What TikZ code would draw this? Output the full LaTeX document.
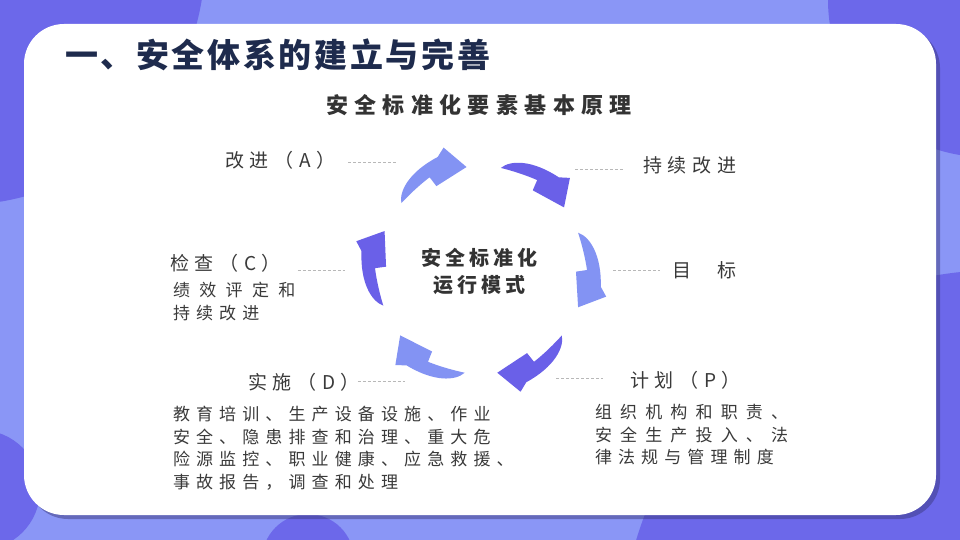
\documentclass[tikz,border=0pt]{standalone}
\usepackage{fontspec}
\usepackage{xcolor}
\usepackage{tikz}
\usetikzlibrary{calc}

\newfontfamily\cjk{Noto Sans CJK SC}

\definecolor{bgdark}{HTML}{6C68EA}
\definecolor{bglight}{HTML}{8A96F6}
\definecolor{arrowlight}{HTML}{8393F3}
\definecolor{arrowdark}{HTML}{6A60E8}
\definecolor{titlenavy}{HTML}{1E2B4D}
\definecolor{textgray}{HTML}{3A3A3A}

\begin{document}
\begin{tikzpicture}[
    x=1pt, y=-1pt,
    every node/.style={inner sep=0pt, outer sep=0pt},
    heading/.style={anchor=west, text=titlenavy,
        font=\cjk\bfseries\addfontfeatures{LetterSpace=8}\fontsize{33}{38}\selectfont},
    subheading/.style={text=black!80,
        font=\cjk\bfseries\addfontfeatures{LetterSpace=29}\fontsize{22}{26}\selectfont},
    hub/.style={align=center, text=black!80,
        font=\cjk\bfseries\addfontfeatures{LetterSpace=20}\fontsize{20}{27}\selectfont},
    % step labels and their descriptions
    lbl/.style={anchor=west, text=textgray,
        font=\cjk\addfontfeatures{LetterSpace=30}\fontsize{19}{22}\selectfont},
    desc/.style={anchor=west, align=left, text=textgray,
        font=\cjk\addfontfeatures{LetterSpace=36}\fontsize{17}{22.5}\selectfont},
    leader/.style={draw=black!28, line width=0.7pt, dash pattern=on 3pt off 2pt},
]
    \useasboundingbox (0,0) rectangle (960,540);
    \clip (0,0) rectangle (960,540);

    % background with darker blobs
    \fill[bglight] (0,0) rectangle (960,540);
    \fill[bgdark] (-40,-40) circle (245);
    \fill[bgdark] (985,0) circle (157);
    \fill[bgdark] (1000,650) circle (380);
    \fill[bgdark] (-20,490) circle (60);
    \fill[bgdark] (308,560) circle (46);

    % white card with soft shadow
    \fill[black!50!bgdark, opacity=0.45, rounded corners=40pt] (28,28) rectangle (940,519);
    \fill[white, rounded corners=40pt] (24,24) rectangle (936,515);

    \node[heading] (title) at (65,55) {一、安全体系的建立与完善};
    \node[subheading] (subtitle) at (479,105) {安全标准化要素基本原理};

    % six curved arrows around the hub (clockwise)
    \begin{scope}[shift={(481,270)}]
      \foreach \a/\col in {-140/arrowlight, -79/arrowdark, -21/arrowlight,
                           39/arrowdark, 99/arrowlight, 160/arrowdark}
        \fill[\col] (\a:104) .. controls (\a+4:114) and (\a+14:121.5) .. (\a+29:121)
            -- (\a+33:128) -- (\a+42:104) -- (\a+22:95) -- (\a+21:106)
            .. controls (\a+14:105) and (\a+6:104) .. cycle;
    \end{scope}

    \node[hub] (hub) at (479,271) {安全标准化\\运行模式};

    % labels round the cycle
    \node[lbl] (lblA) at (225,160) {改进（A）};
    \node[lbl] (lblK) at (643,165) {持续改进};
    \node[lbl] (lblC) at (170,263) {检查（C）};
    \node[desc] (txtC) at (173,301.5) {{\addfontfeatures{LetterSpace=55}绩效评定和}\\持续改进};
    \node[lbl] (lblT) at (672,270) {目\hspace{26pt}标};
    \node[lbl] (lblD) at (248,382) {实施（D）};
    \node[desc] (txtD) at (173,448) {教育培训、生产设备设施、作业\\安全、隐患排查和治理、重大危\\险源监控、职业健康、应急救援、\\事故报告，调查和处理};
    \node[lbl] (lblP) at (630,380) {计划（P）};
    \node[desc] (txtP) at (595,435) {{\addfontfeatures{LetterSpace=48}组织机构和职责、}\\
        {\addfontfeatures{LetterSpace=48}安全生产投入、法}\\律法规与管理制度};

    % dashed leaders towards the arrows
    \coordinate (ldA) at (397,162);
    \coordinate (ldK) at (575,169);
    \coordinate (ldC) at (345,270);
    \coordinate (ldT) at (613,270);
    \coordinate (ldD) at (405,381);
    \coordinate (ldP) at (556,378);
    \draw[leader, shorten <=13pt] (lblA.east |- ldA) -- (ldA);
    \draw[leader, shorten <=17pt] (lblC.east |- ldC) -- (ldC);
    \draw[leader, shorten <=-2pt] (lblD.east |- ldD) -- (ldD);
    \draw[leader, shorten >=20pt] (ldK) -- (lblK.west |- ldK);
    \draw[leader, shorten >=12pt] (ldT) -- (lblT.west |- ldT);
    \draw[leader, shorten >=27pt] (ldP) -- (lblP.west |- ldP);
\end{tikzpicture}
\end{document}
